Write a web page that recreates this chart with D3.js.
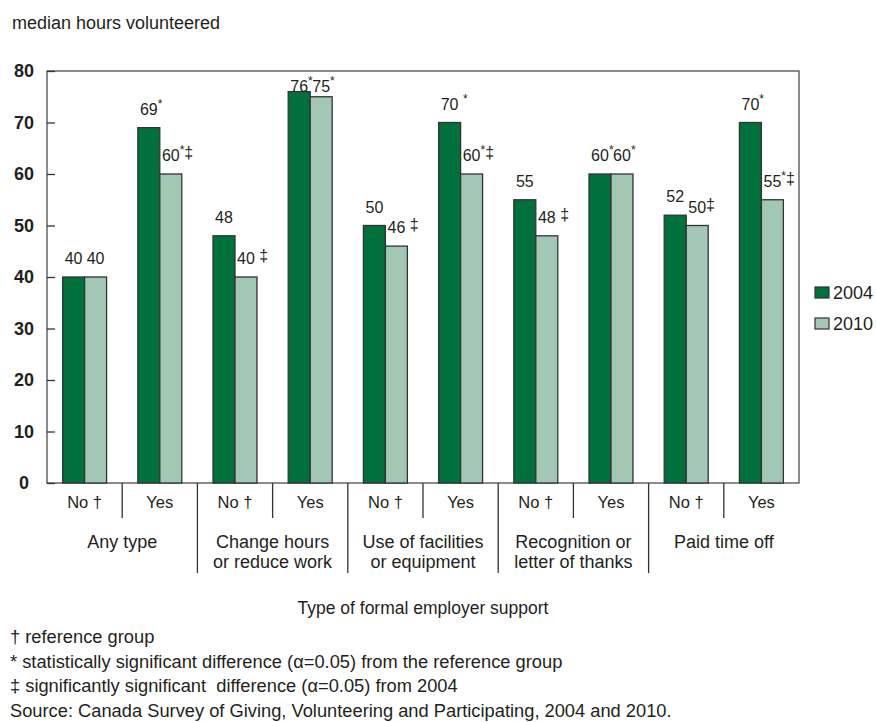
<!DOCTYPE html>
<html>
<head>
<meta charset="utf-8">
<script src="https://cdn.jsdelivr.net/npm/d3@7"></script>
<style>
  body { margin: 0; background: #fff; }
  svg text { font-family: "Liberation Sans", Arial, sans-serif; fill: #231f20; }
  .note { white-space: pre; }
</style>
</head>
<body>
<div id="chart"></div>
<script>
// data
const categories = ["No †", "Yes", "No †", "Yes", "No †", "Yes", "No †", "Yes", "No †", "Yes"];
const groups = [
  ["Any type"],
  ["Change hours", "or reduce work"],
  ["Use of facilities", "or equipment"],
  ["Recognition or", "letter of thanks"],
  ["Paid time off"]
];
const seriesNames = ["2004", "2010"];
const values2004 = [40, 69, 48, 76, 50, 70, 55, 60, 52, 70];
const values2010 = [40, 60, 40, 75, 46, 60, 48, 60, 50, 55];
const marks2004 = ["", "*", "", "*", "", " *", "", "*", "", "*"];
const marks2010 = ["", "*‡", " ‡", "*", " ‡", "*‡", " ‡", "*", "‡", "*‡"];
const yTicks = [0, 10, 20, 30, 40, 50, 60, 70, 80];
const yTitle = "median hours volunteered";
const xTitle = "Type of formal employer support";
const footnotes = [
  "† reference group",
  "* statistically significant difference (α=0.05) from the reference group",
  "‡ significantly significant  difference (α=0.05) from 2004",
  "Source: Canada Survey of Giving, Volunteering and Participating, 2004 and 2010."
];

const width = 876, height = 722;
const margin = { top: 71, right: 77, bottom: 239, left: 47 };
const innerW = width - margin.left - margin.right;
const innerH = height - margin.top - margin.bottom;

const colors = { "2004": "#00703c", "2010": "#a2c7b5" };

const svg = d3.select("#chart").append("svg")
  .attr("width", width)
  .attr("height", height);

const chart = svg.append("g")
  .attr("transform", `translate(${margin.left},${margin.top})`);

// scales
const x0 = d3.scaleBand()
  .domain(d3.range(categories.length))
  .range([0, innerW]);

const x1 = d3.scaleBand()
  .domain(seriesNames)
  .range([0, x0.bandwidth()])
  .paddingOuter(0.71);

const y = d3.scaleLinear()
  .domain([0, 80])
  .range([innerH, 0]);

// frame
chart.append("rect")
  .attr("width", innerW)
  .attr("height", innerH)
  .attr("fill", "none")
  .attr("stroke", "#4d4d4d")
  .attr("stroke-width", 1.3);

// y axis: inward ticks, centered labels
const yAxis = chart.append("g")
  .call(d3.axisLeft(y).tickValues(yTicks).tickSize(-8).tickPadding(0));
yAxis.select(".domain").remove();
yAxis.selectAll(".tick line").attr("stroke", "#333").attr("stroke-width", 1.3);
yAxis.selectAll(".tick text")
  .attr("x", 24 - margin.left)
  .attr("text-anchor", "middle")
  .attr("font-size", 18)
  .attr("font-weight", "bold")
  .attr("fill", "#231f20");

// bars
const rows = categories.map((c, i) => ({
  i,
  bars: [
    { key: "2004", value: values2004[i], mark: marks2004[i] },
    { key: "2010", value: values2010[i], mark: marks2010[i] }
  ]
}));

const cat = chart.selectAll(".cat")
  .data(rows)
  .enter().append("g")
  .attr("class", "cat")
  .attr("transform", d => `translate(${x0(d.i)},0)`);

cat.selectAll("rect")
  .data(d => d.bars)
  .enter().append("rect")
  .attr("x", d => x1(d.key))
  .attr("y", d => y(d.value))
  .attr("width", x1.bandwidth())
  .attr("height", d => innerH - y(d.value))
  .attr("fill", d => colors[d.key])
  .attr("stroke", "#333")
  .attr("stroke-width", 1.3);

// value labels
cat.selectAll(".val")
  .data(d => d.bars)
  .enter().append("text")
  .attr("class", "val")
  .attr("font-size", 16)
  .attr("y", d => Math.max(y(d.value) - 13, 21))
  .each(function (d) {
    const t = d3.select(this);
    const num = t.append("tspan").text(d.value);
    let shift = 0;
    for (const ch of d.mark) {
      let target = 0, size = 16;
      if (ch === "*") { target = -7; size = 12; }
      else if (ch === "‡") { target = -3; size = 16; }
      t.append("tspan")
        .attr("dy", target - shift)
        .attr("font-size", size)
        .text(ch === " " ? "\u00a0" : ch);
      shift = target;
    }
    const w = num.node().getComputedTextLength();
    t.attr("x", x1(d.key) + x1.bandwidth() / 2 - w / 2);
  });

// x axis: sub labels and separators
const axisY = innerH;
chart.selectAll(".sub")
  .data(categories)
  .enter().append("text")
  .attr("class", "sub")
  .attr("x", (d, i) => x0(i) + x0.bandwidth() / 2)
  .attr("y", axisY + 25)
  .attr("text-anchor", "middle")
  .attr("font-size", 16.5)
  .text(d => d);

chart.selectAll(".sep")
  .data(d3.range(1, categories.length))
  .enter().append("line")
  .attr("class", "sep")
  .attr("x1", i => x0(i))
  .attr("x2", i => x0(i))
  .attr("y1", axisY)
  .attr("y2", i => axisY + (i % 2 === 0 ? 90 : 35))
  .attr("stroke", "#333")
  .attr("stroke-width", 1.3);

const grp = chart.selectAll(".grp")
  .data(groups)
  .enter().append("text")
  .attr("class", "grp")
  .attr("text-anchor", "middle")
  .attr("font-size", 18);

grp.selectAll("tspan")
  .data((d, g) => d.map(line => ({ line, g })))
  .enter().append("tspan")
  .attr("x", d => x0(d.g * 2 + 1))
  .attr("y", (d, k) => axisY + 65 + k * 20)
  .text(d => d.line);

// titles
svg.append("text")
  .attr("x", 12)
  .attr("y", 29)
  .attr("font-size", 18)
  .text(yTitle);

svg.append("text")
  .attr("x", margin.left + innerW / 2)
  .attr("y", 614)
  .attr("text-anchor", "middle")
  .attr("font-size", 17.5)
  .text(xTitle);

// legend
const legend = svg.selectAll(".legend")
  .data(seriesNames)
  .enter().append("g")
  .attr("class", "legend")
  .attr("transform", (d, i) => `translate(815,${287 + i * 31})`);

legend.append("rect")
  .attr("width", 14)
  .attr("height", 11)
  .attr("fill", d => colors[d])
  .attr("stroke", "#333")
  .attr("stroke-width", 1.2);

legend.append("text")
  .attr("x", 18)
  .attr("y", 11.5)
  .attr("font-size", 18)
  .text(d => d);

// footnotes
svg.selectAll(".note")
  .data(footnotes)
  .enter().append("text")
  .attr("class", "note")
  .attr("x", 10)
  .attr("y", (d, i) => 643 + i * 24.5)
  .attr("font-size", 18.3)
  .text(d => d);
</script>
</body>
</html>
